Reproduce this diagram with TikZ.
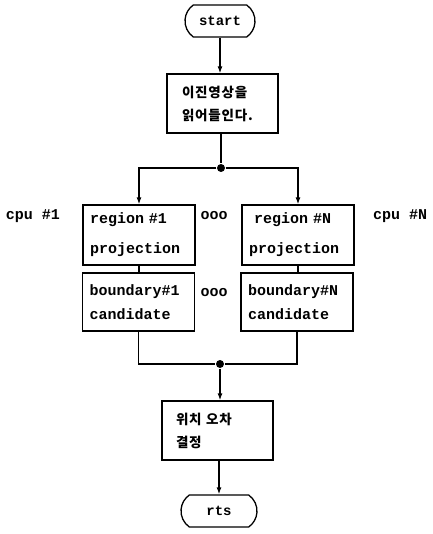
\documentclass[tikz,border=0pt]{standalone}
\usepackage{fontspec}
\newfontfamily\mono{Liberation Mono}
\newfontfamily\kr{Noto Sans CJK KR}[LetterSpace=6]
\usetikzlibrary{arrows.meta,shapes.misc}
\begin{document}
\begin{tikzpicture}[x=1pt,y=-1pt,
  every path/.style={line width=1.3pt},
  arr/.style={-{Latex[length=7pt,width=5pt]}},
  term/.style={draw, line width=1.3pt, rounded rectangle, rounded rectangle arc length=110,
    minimum width=#1, minimum height=32, inner sep=0pt, font=\mono\bfseries\fontsize{14}{16}\selectfont},
  ebox/.style={draw, line width=1.3pt, align=left, inner ysep=0pt, inner xsep=7pt, text width=98,
    font=\mono\bfseries\fontsize{15}{#1}\selectfont},
  kbox/.style={draw, line width=1.3pt, align=left, inner ysep=0pt, inner xsep=#1, text width=111-2*#1,
    minimum height=59, font=\kr\bfseries\fontsize{13.5}{23}\selectfont},
  jdot/.style={circle, fill, inner sep=0pt, minimum size=8},
  lbl/.style={font=\mono\bfseries\fontsize{15}{18}\selectfont, inner sep=0pt}
]
\useasboundingbox (0,0) rectangle (432,534);

\node[term=70] (start) at (220,21) {start};
\node[kbox=15] (read) at (222.5,103.5) {이진영상을\\읽어들인다.};
\node[jdot] (j1) at (221,168) {};

\node[ebox=30, minimum height=60] (r1) at (139,235) {region \#1\\projection};
\node[ebox=30, minimum height=60] (rN) at (298,235) {\hspace{5pt}region \#N\\projection};
\node[ebox=24, minimum height=58] (b1) at (138.5,302) {boundary\#1\\candidate};
\node[ebox=24, minimum height=58] (bN) at (297,302) {boundary\#N\\candidate};

\node[lbl] (cpu1) at (33,216) {cpu \#1};
\node[lbl] (cpuN) at (400,216) {cpu \#N};
\node[lbl] (o1) at (214,216) {ooo};
\node[lbl] (o2) at (214,293) {ooo};

\node[jdot] (j2) at (220,364) {};
\node[kbox=14] (fin) at (217.5,430.5) {위치 오차\\결정};
\node[term=76] (rts) at (219,511) {rts};

\draw[arr] (start.south) -- (start.south |- read.north);
\draw (read.south -| j1) -- (j1);
\draw[arr] (j1) -| (r1.north);
\draw[arr] (j1) -| (rN.north);
\draw (r1.south) -- (r1.south |- b1.north);
\draw (rN.south) -- (rN.south |- bN.north);
\draw (b1.south) |- (j2);
\draw (bN.south) |- (j2);
\draw[arr] (j2) -- (j2 |- fin.north);
\draw[arr] (fin.south -| rts.north) -- (rts.north);
\end{tikzpicture}
\end{document}
